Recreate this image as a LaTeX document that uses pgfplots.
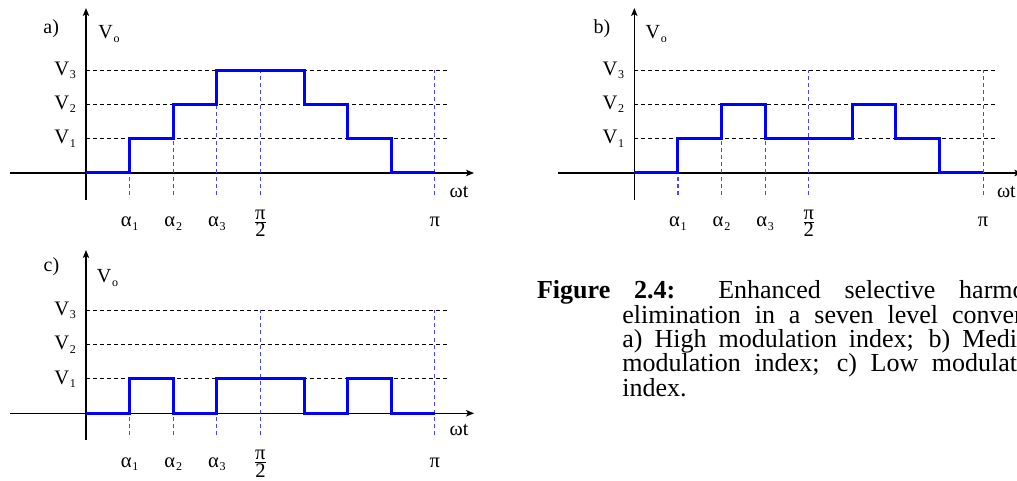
\documentclass[border=0pt]{standalone}
\usepackage{fontspec}
\setmainfont{Liberation Serif}
\usepackage{pgfplots}
\pgfplotsset{compat=1.18}
\usetikzlibrary{arrows.meta}
\definecolor{sigblue}{RGB}{0,0,255}
\definecolor{dashblue}{RGB}{70,70,255}
\newcommand\sub[1]{\hspace{0.4pt}\raisebox{-1.7pt}{\fontsize{6}{7}\selectfont #1}}
\pgfplotsset{
  wave/.style={
    anchor=origin,
    x=21.8pt, y=17.15pt,
    axis lines=middle,
    xmin=-1.743, xmax=8.9, ymin=-0.79, ymax=4.81,
    clip=false,
    axis line style={line width=0.6pt, black},
    x axis line style={-{Stealth[length=4pt,width=3.2pt,inset=1pt]}},
    y axis line style={-{Stealth[length=4pt,width=3.2pt,inset=1pt]}},
    xtick={1,2,3,4,8},
    xticklabels={α\sub{1},α\sub{2},α\sub{3},$\frac{\mbox{π}}{\mbox{2}}$,π},
    xticklabel style={anchor=base, yshift=-27pt},
    ytick={1,2,3},
    yticklabels={V\sub{1},V\sub{2},V\sub{3}},
    yticklabel style={anchor=east, xshift=-1.5pt},
    major tick length=0pt,
    tick label style={font=\fontsize{10.3}{12}\selectfont},
    every node/.append style={font=\fontsize{10.3}{12}\selectfont},
  },
  hgrid/.style={black, line width=0.5pt, dash pattern=on 2pt off 1.5pt},
  vgrid/.style={dashblue, line width=0.6pt, dash pattern=on 2pt off 1.6pt},
  sig/.style={sigblue, line width=1.5pt, const plot, line join=miter, mark=none},
}
\begin{document}
\begin{tikzpicture}
\useasboundingbox (0pt,0pt) rectangle (508.5pt,240.5pt);
\clip (0pt,0pt) rectangle (508.5pt,240.5pt);

% ---------- a) ----------
\begin{axis}[wave, at={(43pt,154pt)}]
\addplot[hgrid] coordinates {(0,1) (8.3,1)};
\addplot[hgrid] coordinates {(0,2) (8.3,2)};
\addplot[hgrid] coordinates {(0,3) (8.3,3)};
\addplot[vgrid] coordinates {(1,-0.64) (1,0)};
\addplot[vgrid] coordinates {(2,-0.64) (2,1)};
\addplot[vgrid] coordinates {(3,-0.64) (3,2)};
\addplot[vgrid] coordinates {(4,-0.64) (4,3)};
\addplot[vgrid] coordinates {(8,-0.64) (8,3)};
\addplot[sig] coordinates {(0,0) (1,1) (2,2) (3,3) (5,2) (6,1) (7,0) (8,0)};
\node[anchor=base west, inner sep=0pt] at (axis cs:8.33,-0.70) {ωt};
\node[anchor=base west, inner sep=0pt] at (axis cs:0.275,3.91) {V\sub{o}};
\node[anchor=base west, inner sep=0pt] at (axis cs:-0.986,4.08) {a)};
\end{axis}

% ---------- b) ----------
\begin{axis}[wave, at={(317.15pt,154pt)}]
\addplot[hgrid] coordinates {(0,1) (8.3,1)};
\addplot[hgrid] coordinates {(0,2) (8.3,2)};
\addplot[hgrid] coordinates {(0,3) (8.3,3)};
\addplot[vgrid] coordinates {(1,-0.64) (1,0)};
\addplot[vgrid] coordinates {(2,-0.64) (2,1)};
\addplot[vgrid] coordinates {(3,-0.64) (3,1)};
\addplot[vgrid] coordinates {(4,-0.64) (4,3)};
\addplot[vgrid] coordinates {(8,-0.64) (8,3)};
\addplot[sig] coordinates {(0,0) (1,1) (2,2) (3,1) (5,2) (6,1) (7,0) (8,0)};
\node[anchor=base west, inner sep=0pt] at (axis cs:8.31,-0.70) {ωt};
\node[anchor=base west, inner sep=0pt] at (axis cs:0.25,3.91) {V\sub{o}};
\node[anchor=base west, inner sep=0pt] at (axis cs:-0.94,4.08) {b)};
\end{axis}

% ---------- c) ----------
\begin{axis}[wave, at={(43pt,33.85pt)}, ymax=4.76]
\addplot[hgrid] coordinates {(0,1) (8.3,1)};
\addplot[hgrid] coordinates {(0,2) (8.3,2)};
\addplot[hgrid] coordinates {(0,3) (8.3,3)};
\addplot[vgrid] coordinates {(1,-0.64) (1,0)};
\addplot[vgrid] coordinates {(2,-0.64) (2,0)};
\addplot[vgrid] coordinates {(3,-0.64) (3,0)};
\addplot[vgrid] coordinates {(4,-0.64) (4,3)};
\addplot[vgrid] coordinates {(8,-0.64) (8,3)};
\addplot[sig] coordinates {(0,0) (1,1) (2,0) (3,1) (5,0) (6,1) (7,0) (8,0)};
\node[anchor=base west, inner sep=0pt] at (axis cs:8.33,-0.65) {ωt};
\node[anchor=base west, inner sep=0pt] at (axis cs:0.24,3.8) {V\sub{o}};
\node[anchor=base west, inner sep=0pt] at (axis cs:-0.98,4.13) {c)};
\end{axis}

% ---------- caption ----------
\begin{scope}[every node/.style={anchor=base west, inner sep=0pt, font=\fontsize{13}{15}\selectfont}]
\node at (268.35pt,91pt) {\makebox[260.15pt][s]{\textbf{Figure} \textbf{2.4:} Enhanced selective harmonic}};
\node at (311pt,78.85pt) {\makebox[217.5pt][s]{elimination in a seven level converter:}};
\node at (311pt,66.7pt) {\makebox[214pt][s]{a) High modulation index; b) Medium}};
\node at (311pt,54.55pt) {\makebox[214pt][s]{modulation index; c) Low modulation}};
\node at (311pt,42.4pt) {index.};
\end{scope}
\end{tikzpicture}
\end{document}
